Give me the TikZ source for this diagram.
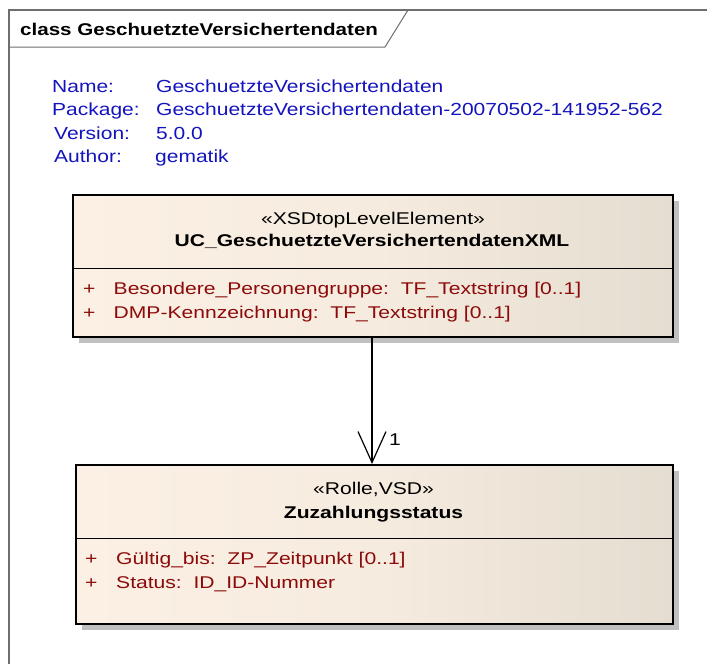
\documentclass[tikz,border=0pt]{standalone}
\usepackage{fontspec}
\setmainfont{Liberation Sans}
\usetikzlibrary{arrows.meta,shadows}
\definecolor{metablue}{RGB}{20,20,190}
\definecolor{attrred}{RGB}{140,10,10}
\definecolor{fillL}{RGB}{251,240,227}
\definecolor{fillR}{RGB}{229,221,209}
\definecolor{shadowgray}{RGB}{192,192,192}
\definecolor{framegray}{RGB}{110,110,110}
\newcommand\bxs[1]{\scalebox{1.24}[1]{#1}}
\newcommand\mxs[1]{\scalebox{1.2}[1]{#1}}
\newcommand\txs[1]{\scalebox{1.21}[1]{#1}}
\begin{document}
\begin{tikzpicture}[x=1pt,y=-1pt,
  classbox/.style={draw=black, line width=1.6pt, left color=fillL, right color=fillR, middle color=fillL!75!fillR,
    inner sep=0pt, anchor=north west,
    general shadow={fill=shadowgray, shadow xshift=6.5pt, shadow yshift=-6.5pt}},
  meta/.style={anchor=base west, inner sep=0pt, text=metablue, font=\fontsize{17.5}{20}\selectfont},
  stereo/.style={anchor=base, inner sep=0pt, font=\fontsize{17}{20}\selectfont},
  cname/.style={anchor=base, inner sep=0pt, font=\bfseries\fontsize{17}{20}\selectfont},
  attr/.style={anchor=base west, inner sep=0pt, text=attrred, font=\fontsize{17}{20}\selectfont},
  divider/.style={draw=black, line width=1pt},
  assoc/.style={draw=black, line width=1.2pt, -{Straight Barb[length=31pt,width=28pt]}},
]
\useasboundingbox (0,0) rectangle (707,664);
\fill[white] (0,0) rectangle (707,664);
% frame
\draw[framegray, line width=1.5pt] (9,664) -- (9,10) -- (707,10);
\draw[framegray, line width=1pt] (9,47) -- (385,47) -- (408,10);
\node[anchor=base west, inner sep=0pt, font=\bfseries\fontsize{17}{20}\selectfont] (title) at (20,35) {\txs{class GeschuetzteVersichertendaten}};
% meta
\node[meta] (nameL) at (52,92) {\mxs{Name:}};
\node[meta] (nameV) at (156,92) {\mxs{GeschuetzteVersichertendaten}};
\node[meta] (pkgL) at (52,115.5) {\mxs{Package:}};
\node[meta] (pkgV) at (156,115.5) {\mxs{GeschuetzteVersichertendaten-20070502-141952-562}};
\node[meta] (verL) at (54,139) {\mxs{Version:}};
\node[meta] (verV) at (156,139) {\mxs{5.0.0}};
\node[meta] (autL) at (54,162.5) {\mxs{Author:}};
\node[meta] (autV) at (155,162.5) {\mxs{gematik}};
% class 1
\node[classbox, minimum width=600pt, minimum height=142pt] (c1) at (72,194) {};
\coordinate (d1) at (0,268);
\draw[divider] (c1.west |- d1) -- (c1.east |- d1);
\node[stereo] (s1) at (373,224) {\bxs{«XSDtopLevelElement»}};
\node[cname] (n1) at (372,246) {\bxs{UC\_GeschuetzteVersichertendatenXML}};
\node[attr] (p1a) at (83,294) {\bxs{+}};
\node[attr] (a1a) at (113.5,294) {\bxs{Besondere\_Personengruppe:\ \ TF\_Textstring [0..1]}};
\node[attr] (p1b) at (83,318) {\bxs{+}};
\node[attr] (a1b) at (113.5,318) {\bxs{DMP-Kennzeichnung:\ \ TF\_Textstring [0..1]}};
% class 2
\node[classbox, minimum width=597pt, minimum height=159pt] (c2) at (75,464) {};
\coordinate (d2) at (0,538);
\draw[divider] (c2.west |- d2) -- (c2.east |- d2);
\node[stereo] (s2) at (373.5,494) {\bxs{«Rolle,VSD»}};
\node[cname] (n2) at (373.5,518) {\bxs{Zuzahlungsstatus}};
\node[attr] (p2a) at (85,564) {\bxs{+}};
\node[attr] (a2a) at (116,564) {\bxs{Gültig\_bis:\ \ ZP\_Zeitpunkt [0..1]}};
\node[attr] (p2b) at (85,588) {\bxs{+}};
\node[attr] (a2b) at (116,588) {\bxs{Status:\ \ ID\_ID-Nummer}};
% association
\coordinate (ax) at (372,0);
\draw[assoc] (c1.south -| ax) -- (c2.north -| ax);
\node[inner sep=0pt, font=\fontsize{17}{20}\selectfont] (m1) at (395,440) {\bxs{1}};
\end{tikzpicture}
\end{document}
